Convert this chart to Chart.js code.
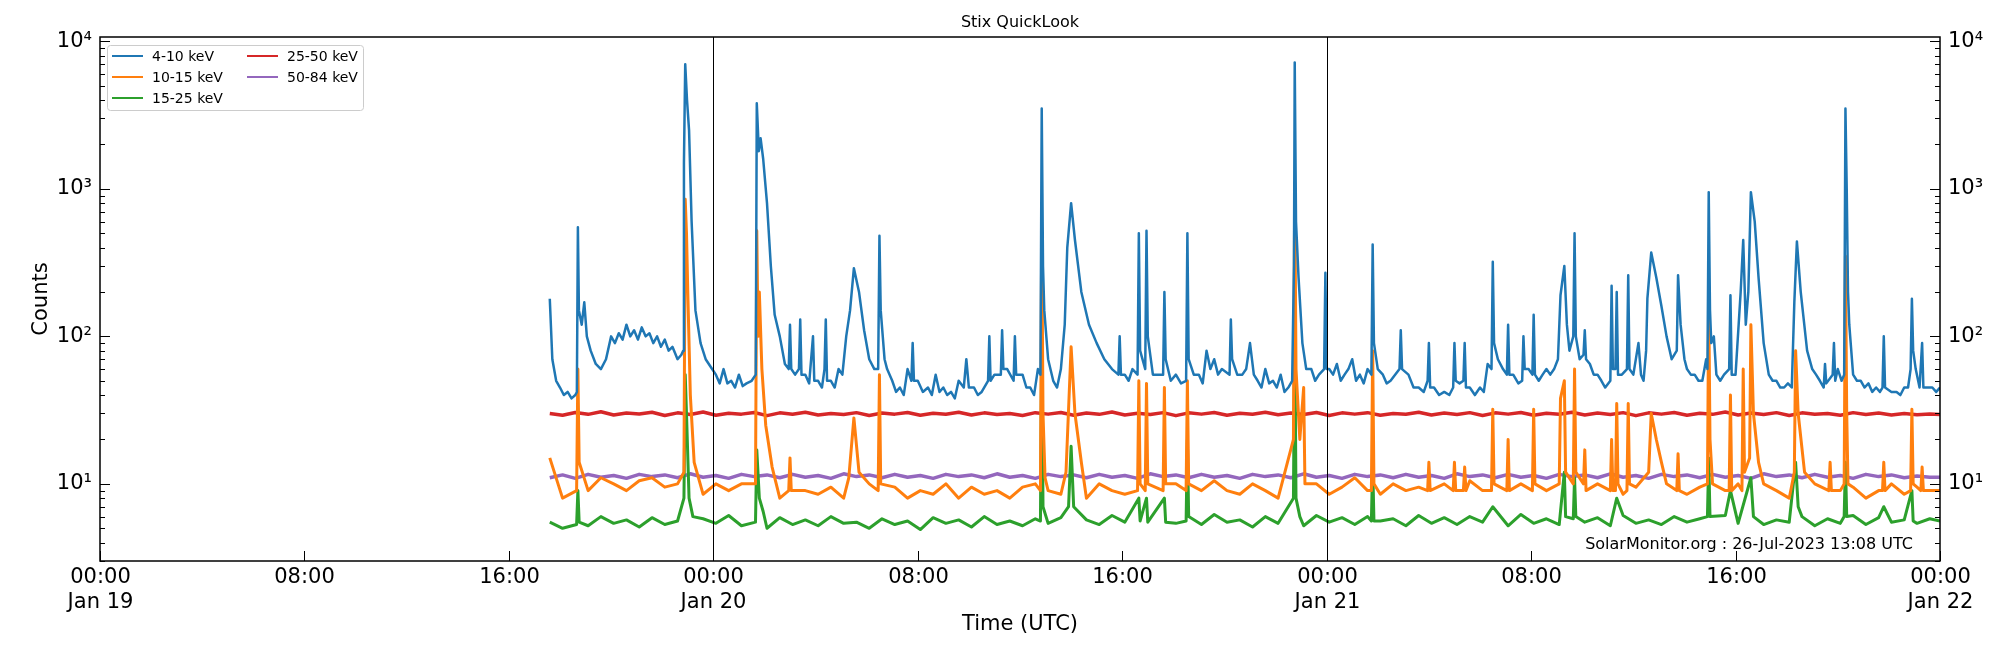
<!DOCTYPE html>
<html><head><meta charset="utf-8">
<script src="https://cdn.jsdelivr.net/npm/chart.js@4/dist/chart.umd.min.js"></script>
<style>html,body{margin:0;padding:0;background:#fff;}canvas{display:block;}</style>
</head><body>
<canvas id="c" width="2000" height="650"></canvas>
<script>
const seriesNames = ['4-10 keV','10-15 keV','15-25 keV','25-50 keV','50-84 keV'];
const seriesColors = ['#1f77b4','#ff7f0e','#2ca02c','#d62728','#9467bd'];
const seriesWidths = [2.5,3,3,3.5,3.5];
const xTickHours = [0,8,16,24,32,40,48,56,64,72];
const xTickLabels = [['00:00','Jan 19'],'08:00','16:00',['00:00','Jan 20'],'08:00','16:00',['00:00','Jan 21'],'08:00','16:00',['00:00','Jan 22']];
const yMajor = [10,100,1000,10000];
const yMajorLabels = ['10¹','10²','10³','10⁴'];
const dayLines = [24,48];

// [hours since Jan 19 00:00 UTC, counts]
const band4_10 = [[17.6,180],[17.7,70],[17.85,50],[18.0,45],[18.15,40],[18.3,42],[18.45,38],[18.6,40],[18.66,42],[18.7,550],[18.74,150],[18.85,120],[18.95,170],[19.05,100],[19.2,80],[19.4,65],[19.6,60],[19.8,70],[20.0,100],[20.15,90],[20.3,105],[20.45,95],[20.6,120],[20.75,100],[20.9,110],[21.05,95],[21.2,115],[21.35,100],[21.5,105],[21.65,90],[21.8,100],[21.95,85],[22.1,95],[22.25,80],[22.4,85],[22.6,70],[22.75,75],[22.82,80],[22.85,1500],[22.9,7000],[22.97,4000],[23.05,2500],[23.15,600],[23.3,150],[23.5,90],[23.7,70],[23.9,62],[24.1,55],[24.25,48],[24.4,60],[24.55,48],[24.7,50],[24.85,45],[25.0,55],[25.15,46],[25.3,48],[25.5,50],[25.66,55],[25.7,3800],[25.78,1800],[25.85,2200],[25.95,1600],[26.1,800],[26.25,300],[26.4,140],[26.6,100],[26.8,65],[26.95,60],[27.0,120],[27.05,60],[27.2,55],[27.35,60],[27.4,130],[27.45,55],[27.6,55],[27.75,48],[27.9,100],[27.95,50],[28.1,50],[28.25,45],[28.35,60],[28.4,130],[28.45,50],[28.6,50],[28.75,45],[28.9,60],[29.05,55],[29.2,100],[29.35,150],[29.5,290],[29.7,200],[29.9,110],[30.1,70],[30.3,60],[30.45,60],[30.5,480],[30.55,150],[30.7,70],[30.8,60],[31.0,50],[31.15,42],[31.3,45],[31.45,40],[31.6,60],[31.75,50],[31.8,90],[31.85,50],[32.0,50],[32.2,42],[32.4,45],[32.55,40],[32.7,55],[32.85,42],[33.0,45],[33.15,40],[33.3,42],[33.45,38],[33.6,50],[33.8,45],[33.9,70],[34.0,45],[34.2,45],[34.35,40],[34.5,42],[34.75,50],[34.8,100],[34.85,50],[35.0,55],[35.25,55],[35.3,110],[35.35,60],[35.5,60],[35.75,50],[35.8,100],[35.85,55],[36.1,55],[36.25,45],[36.4,45],[36.55,40],[36.7,60],[36.8,55],[36.85,3500],[36.9,300],[36.95,150],[37.1,70],[37.3,50],[37.45,45],[37.6,60],[37.75,120],[37.85,400],[38.0,800],[38.15,450],[38.4,200],[38.7,120],[39.0,90],[39.3,70],[39.6,60],[39.85,55],[39.9,100],[39.95,55],[40.1,55],[40.25,50],[40.4,60],[40.6,55],[40.65,500],[40.7,80],[40.9,60],[40.95,520],[41.0,100],[41.2,55],[41.4,55],[41.6,55],[41.65,200],[41.7,70],[41.9,50],[42.1,55],[42.3,48],[42.5,50],[42.55,500],[42.6,70],[42.8,55],[43.0,55],[43.15,48],[43.3,80],[43.45,60],[43.6,70],[43.75,55],[43.9,60],[44.2,55],[44.25,130],[44.3,70],[44.5,55],[44.7,55],[44.85,60],[45.0,90],[45.15,55],[45.3,50],[45.45,45],[45.6,60],[45.75,48],[45.9,50],[46.05,45],[46.2,55],[46.35,42],[46.5,45],[46.65,50],[46.72,300],[46.75,7200],[46.8,600],[46.9,250],[47.05,90],[47.2,60],[47.4,60],[47.55,50],[47.7,55],[47.9,60],[47.95,270],[48.0,60],[48.1,60],[48.25,55],[48.4,65],[48.55,50],[48.7,55],[48.85,60],[49.0,70],[49.15,50],[49.3,55],[49.45,48],[49.6,60],[49.75,55],[49.8,420],[49.85,90],[50.0,60],[50.2,55],[50.35,48],[50.5,50],[50.85,60],[50.9,110],[50.95,60],[51.2,55],[51.4,45],[51.6,45],[51.8,42],[51.95,50],[52.0,90],[52.05,45],[52.2,45],[52.4,40],[52.6,42],[52.8,40],[52.95,45],[53.0,90],[53.05,50],[53.2,48],[53.35,50],[53.4,90],[53.45,45],[53.6,45],[53.8,40],[54.0,45],[54.15,42],[54.3,65],[54.45,60],[54.5,320],[54.55,90],[54.7,70],[54.9,60],[55.05,55],[55.1,120],[55.15,55],[55.3,55],[55.5,48],[55.65,50],[55.7,100],[55.75,60],[55.9,60],[56.05,55],[56.1,140],[56.15,55],[56.3,50],[56.45,55],[56.6,60],[56.75,55],[56.9,60],[57.05,70],[57.15,190],[57.3,300],[57.4,120],[57.5,80],[57.65,100],[57.7,500],[57.75,100],[57.9,70],[58.05,75],[58.1,110],[58.15,70],[58.3,65],[58.45,55],[58.6,55],[58.75,50],[58.9,45],[59.1,50],[59.15,220],[59.2,60],[59.3,60],[59.35,200],[59.4,55],[59.55,55],[59.75,60],[59.8,260],[59.85,60],[60.0,55],[60.2,90],[60.3,55],[60.4,50],[60.5,80],[60.55,180],[60.7,370],[60.9,250],[61.1,160],[61.3,100],[61.5,70],[61.7,80],[61.75,260],[61.85,120],[62.0,70],[62.1,60],[62.25,55],[62.4,55],[62.55,50],[62.7,50],[62.85,70],[62.9,60],[62.95,950],[63.0,150],[63.05,90],[63.15,100],[63.25,55],[63.4,50],[63.55,55],[63.75,60],[63.8,190],[63.85,55],[64.0,55],[64.2,200],[64.3,450],[64.4,120],[64.5,200],[64.6,950],[64.75,600],[64.9,250],[65.1,90],[65.3,55],[65.45,50],[65.6,50],[65.75,45],[65.9,45],[66.05,48],[66.2,45],[66.3,170],[66.4,440],[66.55,200],[66.8,80],[67.0,60],[67.15,55],[67.3,50],[67.45,45],[67.5,65],[67.55,48],[67.8,55],[67.85,90],[67.9,50],[68.0,60],[68.15,50],[68.25,55],[68.3,3500],[68.35,1000],[68.4,200],[68.45,120],[68.6,55],[68.75,50],[68.9,50],[69.05,45],[69.2,48],[69.35,42],[69.5,45],[69.65,42],[69.75,45],[69.8,100],[69.85,45],[70.1,42],[70.3,42],[70.45,40],[70.6,45],[70.75,45],[70.85,60],[70.9,180],[70.95,80],[71.05,60],[71.2,45],[71.3,90],[71.35,45],[71.5,45],[71.7,45],[71.85,42],[72,45]];

// baseline samples every 0.5 h starting 17.6 h
const base10_15 = [15,8,10,9,11,10,9,10.5,11,9.5,10,9,8.5,10,9,10,8.5,9.5,8,10,9,8.5,9.5,8,9,10,8.5,9.5,8,9,8.5,10,8,9.5,8.5,9,8,9.5,10,9,8.5,9.5,8,10,9,8.5,9.5,8,9,10,8.5,9,10.5,9,8.5,10,9,8,9.5,9,10,8.5,9.5,11,9,8.5,10,9,9.5,8.5,10,9,10.5,9,8.5,9.5,10,8.5,9,10,8.5,9.5,10,9,8.5,9.5,8,9,10,8.5,9.5,8,9,10,8.5,9.5,9,8,9.5,10,8.5,9,9.5,8,9,10,8.5,9.5,9,8.5];
const peaks10_15 = [[18.65,9],[18.7,60],[18.75,14],[22.85,12],[22.9,850],[22.95,500],[23.0,200],[23.1,40],[23.25,14],[25.65,10],[25.7,520],[25.75,100],[25.8,200],[25.9,60],[26.05,25],[26.3,13],[26.95,9],[27.0,15],[27.05,9],[29.3,11],[29.5,28],[29.7,12],[30.45,9],[30.5,55],[30.55,10],[36.8,9],[36.85,550],[36.9,30],[36.98,11],[37.8,12],[38.0,85],[38.15,30],[38.4,14],[40.6,9],[40.65,50],[40.7,10],[40.9,9],[40.95,48],[41.0,10],[41.6,9],[41.65,45],[41.7,10],[42.5,9],[42.55,50],[42.6,10],[46.7,20],[46.75,1100],[46.8,60],[46.95,20],[47.1,45],[47.15,10],[49.75,9],[49.8,80],[49.85,10],[51.95,9],[52.0,14],[52.05,9],[52.95,9],[53.0,14],[53.05,9],[53.35,9],[53.4,13],[53.45,9],[54.45,9],[54.5,32],[54.55,10],[55.05,9],[55.1,20],[55.15,9],[56.05,9],[56.1,32],[56.15,10],[57.1,10],[57.15,38],[57.3,50],[57.35,12],[57.65,10],[57.7,60],[57.75,12],[58.05,10],[58.1,17],[58.15,9],[59.1,9],[59.15,20],[59.2,9],[59.3,9],[59.35,35],[59.4,10],[59.75,9],[59.8,35],[59.85,10],[60.6,12],[60.7,30],[60.9,20],[61.1,14],[61.3,10],[61.7,9],[61.75,16],[61.8,9],[62.9,10],[62.95,180],[63.0,20],[63.1,10],[63.75,9],[63.8,40],[63.85,9],[64.25,9],[64.3,60],[64.35,12],[64.55,15],[64.6,120],[64.7,30],[64.9,14],[65.1,10],[66.3,12],[66.35,80],[66.45,30],[66.7,12],[67.65,9],[67.7,14],[67.75,9],[68.25,10],[68.3,350],[68.35,30],[68.4,10],[69.75,9],[69.8,14],[69.85,9],[70.85,9],[70.9,32],[70.95,10],[71.25,9],[71.3,13],[71.35,9],[72,9]];

const base15_25 = [5.5,5.0,5.8,5.2,6.0,5.4,5.7,5.1,5.9,5.3,5.6,5.0,5.8,5.4,6.1,5.2,5.6,5.0,5.9,5.3,5.7,5.2,6.0,5.4,5.5,5.0,5.8,5.3,5.6,4.9,5.9,5.4,5.7,5.1,6.0,5.3,5.6,5.2,5.8,5.4,5.9,5.1,5.7,5.3,6.1,5.5,5.8,5.2,6.0,5.4,5.9,5.3,6.2,5.5,5.7,5.1,6.0,5.4,5.8,5.2,6.1,5.5,5.9,5.3,6.0,5.6,5.8,5.2,6.1,5.4,5.9,5.3,6.0,5.5,5.7,5.2,6.2,5.4,5.8,5.3,6.0,5.5,5.9,5.2,6.1,5.4,5.7,5.3,6.0,5.5,5.8,5.2,6.1,5.4,5.9,5.3,5.7,5.5,6.0,5.2,5.8,5.4,6.1,5.3,5.9,5.5,5.7,5.4,5.8];
const peaks15_25 = [[18.65,5.3],[18.7,9],[18.75,5.5],[22.85,8],[22.9,55],[22.95,30],[23.05,8],[23.2,6],[25.65,5.5],[25.7,17],[25.8,8],[25.95,6.5],[36.8,5.6],[36.85,90],[36.9,7],[37.9,7],[38.0,18],[38.1,7],[40.65,8],[40.7,5.6],[40.95,8],[41.0,5.5],[41.65,8],[41.7,5.5],[42.5,5.6],[42.55,20],[42.6,6],[46.7,8],[46.75,130],[46.8,8],[46.95,6],[49.75,5.6],[49.8,14],[49.85,5.6],[54.5,7],[57.3,12],[57.35,6],[57.65,5.8],[57.7,11],[57.75,6],[59.35,8],[62.9,6],[62.95,15],[63.0,6],[63.8,9],[64.6,11],[64.7,6],[66.35,14],[66.45,7],[68.25,6],[68.3,14],[68.35,6],[69.8,7],[70.9,9],[70.95,5.6],[72,5.6]];

const base25_50 = [30,29.2,30.5,29.6,30.8,29.3,30.2,29.8,30.6,29.1,30.3,29.5,30.7,29.2,30.1,29.7,30.5,29.0,30.3,29.6,30.6,29.3,30.0,29.5,30.4,29.1,30.2,29.7,30.5,29.2,30.1,29.6,30.6,29.3,30.3,29.5,30.0,29.1,30.4,29.7,30.5,29.2,30.2,29.6,30.7,29.3,30.1,29.5,30.4,29.0,30.3,29.7,30.5,29.2,30.1,29.6,30.6,29.4,30.2,29.5,30.5,29.1,30.3,29.7,30.4,29.2,30.0,29.6,30.6,29.3,30.2,29.5,30.4,29.1,30.3,29.7,30.5,29.2,30.1,29.6,30.6,29.3,30.2,29.5,30.4,29.0,30.3,29.7,30.5,29.2,30.1,29.6,30.7,29.3,30.2,29.5,30.4,29.1,30.3,29.6,30.0,29.2,30.4,29.5,30.2,29.3,30.0,29.4,29.8];
const peaks25_50 = [[72,29.5]];

const base50_84 = [11.0,11.5,10.9,11.6,11.1,11.4,10.9,11.6,11.2,11.5,11.0,11.7,11.1,11.4,10.9,11.6,11.2,11.5,11.0,11.6,11.1,11.4,10.9,11.7,11.2,11.5,11.0,11.6,11.1,11.4,10.9,11.6,11.2,11.5,11.0,11.7,11.1,11.4,10.9,11.6,11.2,11.5,11.0,11.6,11.1,11.4,10.9,11.7,11.2,11.5,11.0,11.6,11.1,11.4,10.9,11.6,11.2,11.5,11.0,11.7,11.1,11.4,10.9,11.6,11.2,11.5,11.0,11.6,11.1,11.4,10.9,11.7,11.2,11.5,11.0,11.6,11.1,11.4,10.9,11.6,11.2,11.5,11.0,11.7,11.1,11.4,10.9,11.6,11.2,11.5,11.0,11.6,11.1,11.4,10.9,11.7,11.2,11.5,11.0,11.6,11.1,11.4,10.9,11.6,11.2,11.5,11.0,11.3,11.1];
const peaks50_84 = [[72,11.1]];

const BASE_START = 17.6, BASE_STEP = 0.5;
function merge(base, peaks){
  const pts = base.map((v,i)=>[BASE_START+BASE_STEP*i, v])
    .filter(p=>p[0] < 72 && !peaks.some(q=>Math.abs(q[0]-p[0])<0.12));
  return pts.concat(peaks).sort((a,b)=>a[0]-b[0]);
}

const allBands = [band4_10, merge(base10_15,peaks10_15), merge(base15_25,peaks15_25), merge(base25_50,peaks25_50), merge(base50_84,peaks50_84)];

const datasets = allBands.map((b,i)=>({
  label: seriesNames[i],
  data: b.map(p=>({x:p[0],y:p[1]})),
  borderColor: seriesColors[i], backgroundColor: seriesColors[i],
  borderWidth: seriesWidths[i], pointRadius:0, tension:0, fill:false,
  borderJoinStyle:'round', order: i
}));

const FONT = 'DejaVu Sans';
const overlay = {
  id:'overlay',
  afterDraw(chart){
    const ctx = chart.ctx, a = chart.chartArea, xs = chart.scales.x, ys = chart.scales.y;
    ctx.save();
    ctx.strokeStyle='#000'; ctx.lineWidth=1;
    dayLines.forEach(h=>{const x=Math.round(xs.getPixelForValue(h))+0.5;ctx.beginPath();ctx.moveTo(x,a.top);ctx.lineTo(x,a.bottom);ctx.stroke();});
    ctx.lineWidth=1.5; ctx.strokeRect(a.left,a.top,a.right-a.left,a.bottom-a.top);
    ctx.lineWidth=1;
    for(let d=0; d<=4; d++){
      for(let m=1;m<=9;m++){
        const v=m*Math.pow(10,d);
        if(v<ys.min||v>ys.max) continue;
        const y=Math.round(ys.getPixelForValue(v))+0.5;
        const len = m===1?10:5;
        ctx.beginPath();ctx.moveTo(a.left,y);ctx.lineTo(a.left+len,y);ctx.moveTo(a.right,y);ctx.lineTo(a.right-len,y);ctx.stroke();
      }
    }
    ctx.fillStyle='#000';
    ctx.font='21px '+FONT; ctx.textBaseline='middle';
    yMajor.forEach((v,i)=>{
      const y=ys.getPixelForValue(v);
      ctx.textAlign='right'; ctx.fillText(yMajorLabels[i], a.left-8, y);
      ctx.textAlign='left'; ctx.fillText(yMajorLabels[i], a.right+8, y);
    });
    xTickHours.forEach((h,i)=>{
      const x=Math.round(xs.getPixelForValue(h))+0.5;
      ctx.beginPath();ctx.moveTo(x,a.bottom);ctx.lineTo(x,a.bottom-10);ctx.stroke();
      const lab=xTickLabels[i]; const lines=Array.isArray(lab)?lab:[lab];
      ctx.textAlign='center'; ctx.textBaseline='top';
      lines.forEach((t,k)=>ctx.fillText(t,x,a.bottom+6+k*25));
    });
    ctx.font='21px '+FONT; ctx.textAlign='center'; ctx.textBaseline='middle';
    ctx.fillText('Time (UTC)', (a.left+a.right)/2, 625);
    ctx.save(); ctx.translate(42,(a.top+a.bottom)/2); ctx.rotate(-Math.PI/2); ctx.fillText('Counts',0,0); ctx.restore();
    ctx.font='16px '+FONT; ctx.fillText('Stix QuickLook',(a.left+a.right)/2,23);
    ctx.textAlign='right'; ctx.fillText('SolarMonitor.org : 26-Jul-2023 13:08 UTC', 1913, 545);
    ctx.fillStyle='rgba(255,255,255,0.85)'; ctx.strokeStyle='#ccc'; ctx.lineWidth=1;
    ctx.beginPath(); ctx.roundRect(107.5,45.5,256,65,3); ctx.fill(); ctx.stroke();
    ctx.font='14px '+FONT; ctx.textAlign='left';
    const pos=[[112,56],[112,77],[112,98],[247,56],[247,77]];
    seriesNames.forEach((n,i)=>{
      const [lx,ly]=pos[i];
      ctx.strokeStyle=seriesColors[i]; ctx.lineWidth=2;
      ctx.beginPath();ctx.moveTo(lx,ly);ctx.lineTo(lx+31,ly);ctx.stroke();
      ctx.fillStyle='#000'; ctx.fillText(n,lx+40,ly+1);
    });
    ctx.restore();
  }
};

new Chart(document.getElementById('c'),{
  type:'line',
  data:{datasets},
  options:{
    responsive:false, animation:false, devicePixelRatio:1,
    layout:{padding:{left:100,right:60,top:37,bottom:89}},
    plugins:{legend:{display:false},title:{display:false},tooltip:{enabled:false}},
    scales:{
      x:{type:'linear',min:0,max:72,display:false},
      y:{type:'logarithmic',min:3,max:10700,display:false}
    }
  },
  plugins:[overlay]
});
</script>
</body></html>
